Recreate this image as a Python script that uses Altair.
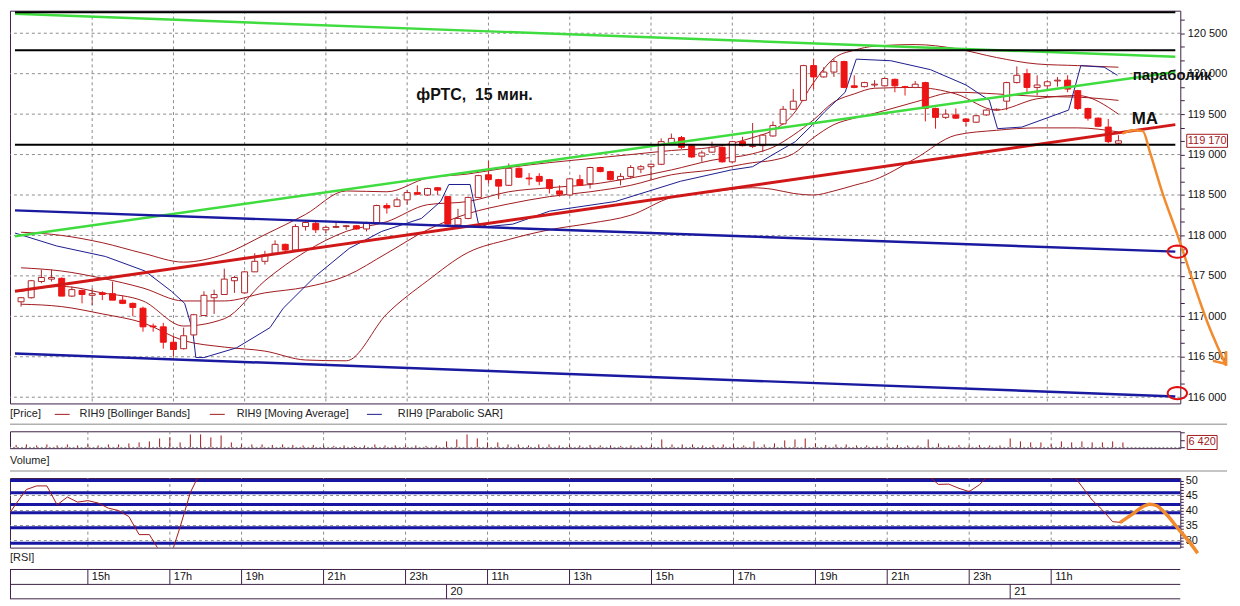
import math
import altair as alt
import pandas as pd

# ---------------- values ----------------
# 15-minute candles (index 0..108), RIH9
c_open = [117180,117230,117430,117460,117470,117250,117320,117260,117290,117280,
          117200,117160,117100,116880,116870,116680,116600,116770,117010,117230,
          117270,117440,117290,117550,117680,117780,117890,117820,118110,118150,
          118070,118100,118110,118120,118080,118160,118370,118360,118440,118530,
          118500,118590,118480,118130,118210,118470,118750,118690,118620,118830,
          118710,118730,118690,118550,118500,118690,118640,118840,118790,118690,
          118730,118820,118850,118880,119140,119210,119110,118980,119030,119090,
          118910,119160,119100,119110,119230,119380,119560,119670,120100,119960,
          120020,120150,119850,119840,119860,119850,119930,119840,119830,119890,
          119570,119460,119490,119440,119400,119490,119550,119660,119890,120000,
          119830,119850,119910,119920,119790,119570,119450,119340,119140]
c_close = [117230,117440,117480,117480,117250,117330,117270,117280,117270,117200,
           117160,117110,116870,116870,116680,116590,116760,117020,117260,117270,
           117460,117480,117550,117680,117760,117890,117820,118110,118160,118070,
           118100,118110,118120,118080,118150,118370,118340,118440,118530,118510,
           118580,118560,118140,118210,118470,118740,118690,118610,118830,118720,
           118700,118670,118580,118510,118700,118620,118840,118790,118690,118730,
           118840,118850,118880,119160,119200,119090,118970,119020,119090,118910,
           119160,119110,119110,119240,119360,119560,119660,120100,119960,120020,
           120150,119830,119830,119890,119870,119940,119850,119830,119870,119570,
           119460,119500,119450,119410,119480,119550,119560,119890,119980,119830,
           119860,119900,119920,119810,119570,119450,119350,119160,119170]
c_high = [117240,117450,117580,117580,117480,117370,117330,117350,117310,117430,
          117260,117170,117120,116910,116920,116760,116860,117030,117310,117330,
          117590,117500,117560,117780,117810,117940,117900,118140,118170,118170,
          118120,118170,118130,118130,118170,118380,118400,118470,118560,118620,
          118590,118600,118490,118330,118480,118750,118920,118700,118890,118840,
          118770,118770,118700,118620,118710,118750,118850,118850,118800,118770,
          118870,118870,118890,119200,119260,119230,119120,119050,119160,119100,
          119170,119220,119390,119250,119410,119600,119810,120110,120180,120080,
          120180,120160,119980,119900,119920,119950,119940,119850,119910,119900,
          119580,119560,119570,119450,119490,119560,119570,119900,120090,120060,
          119980,119920,119960,119980,119800,119580,119460,119440,119240]
c_low = [117120,117220,117410,117430,117250,117240,117160,117140,117200,117200,
         117150,117000,116810,116810,116600,116500,116590,116760,117010,117030,
         117270,117290,117290,117550,117640,117770,117810,117820,118060,118030,
         118030,118090,118070,118070,118050,118150,118270,118350,118380,118500,
         118490,118500,118130,118120,118200,118470,118640,118450,118610,118710,
         118620,118620,118520,118480,118490,118610,118580,118780,118680,118620,
         118700,118770,118690,118870,119120,119070,118960,118910,119020,118900,
         118890,119100,119080,119030,119220,119370,119550,119660,119810,119950,
         119960,119820,119820,119830,119830,119840,119770,119730,119820,119410,
         119320,119440,119440,119350,119390,119480,119540,119550,119880,119750,
         119730,119810,119840,119770,119550,119420,119340,119140,119130]
volume = [3200,3900,2600,3900,2600,3900,2600,3900,2600,3900,
          3900,5200,6500,7800,11700,13000,6500,16900,16900,13000,
          15600,6500,3900,3900,3900,3200,3900,3200,2600,3200,
          2600,2000,2600,2000,2600,3900,2600,2600,2600,2600,
          2000,2600,7800,10400,16900,11700,6500,6500,3900,3900,
          2600,3900,3900,2600,3200,2600,3200,2600,2600,2000,
          2600,2600,3200,10400,3900,3900,3900,2600,3200,3900,
          3900,2600,7800,3900,5200,9100,10400,11700,5200,3200,
          3900,3900,2600,2600,2000,2600,3200,2600,2600,10400,
          5200,2600,3200,2600,3200,2600,2600,11700,7800,6500,
          6500,3900,7800,6500,7800,6500,6500,7800,6420]

# indicator lines, read at these candle indexes
ind_k = [0,4,8,12,16,20,24,28,32,36,40,44,48,52,56,60,64,68,72,74,76,78,80,82,84,88,92,96,100,104,108]
bb_upper = [118040,118000,117910,117780,117670,117770,118010,118260,118550,118540,118710,118760,118840,
            118900,118950,119000,119050,119090,119210,119300,119500,119890,120190,120290,120340,120360,
            120310,120200,120120,120100,120080]
bb_mid = [117600,117560,117470,117350,117190,117190,117290,117360,117500,117780,118070,118270,118390,
          118480,118540,118620,118750,118810,118900,118930,119010,119210,119370,119450,119510,119650,
          119770,119750,119720,119710,119670]
bb_lower = [117150,117120,117030,116920,116700,116620,116570,116460,116450,117030,117440,117790,117950,
            118070,118150,118250,118470,118540,118590,118570,118520,118500,118550,118620,118690,118950,
            119240,119300,119330,119330,119280]
ma_line = [117310,117370,117290,117190,116880,116970,117440,117800,118050,118170,118380,118420,118540,
           118590,118630,118710,118810,118930,119010,119090,119240,119430,119650,119750,119820,119830,
           119750,119550,119690,119730,119500]

sar_k = [-0.6,3.5,8.3,12.2,14.8,16.1,16.9,17.2,18.0,21.2,24.5,25.8,29.0,32.3,35.5,39.4,41.3,42.1,44.2,
         45.0,45.9,48.4,52.0,58.5,64.9,69.9,72.0,74.0,76.2,77.9,79.1,81.1,82.2,85.6,89.5,93.0,95.3,96.1,
         98.5,103.1,104.3,106.6,107.9]
sar_val = [118030,117870,117740,117560,117310,117160,116820,116490,116490,116610,116860,117100,117500,
           117840,118050,118210,118420,118630,118630,118150,118110,118140,118300,118420,118670,118810,
           118850,119000,119160,119370,119530,119770,120180,120160,120050,119860,119670,119320,119340,
           119550,120100,120080,119980]

# hand-drawn straight lines: start/end (candle index, price)
trend_names = ["green_top", "green_low", "red_ma", "blue_top", "blue_low", "black_1", "black_2", "black_3"]
trend_k0 = [-0.6] * 8
trend_k1 = [113.6] * 8
trend_p0 = [120740, 117990, 117310, 118310, 116540, 120760, 120290, 119120]
trend_p1 = [120210, 120020, 119370, 117800, 116010, 120760, 120290, 119120]

rsi_seg = ["a"] * 20 + ["b"] * 7 + ["c"] * 6
rsi_k = [-0.6,0,1,2,3,4,5,6,7,8,9,10,11,12,13,14,15,16,17,18,
         89,90,91,92,93,94,95,
         103,104,105,106,107,108]
rsi_val = [39.3,42.3,47.0,48.2,48.2,41.9,44.5,42.8,43.3,42.5,40.8,40.0,38.0,32.0,32.0,26.5,24.0,34.5,46.0,53.0,
           51.6,48.7,48.8,47.4,46.3,48.6,52.0,
           52.5,48.0,43.5,40.2,36.3,36.0]
rsi_levels = [50, 45.9, 42, 39.3, 34.3, 29.1]
rsi_grid = [45, 40, 35, 30]

# orange hand-drawn forecasts
orange_price_k = [108.4,109.5,110.4,111.1,112.3,113.8,115.0,116.0,116.9,117.6,118.6]
orange_price_v = [119260,119300,119290,119030,118540,118010,117560,117190,116880,116670,116390]
arrow_k0 = [117.3, 118.6]
arrow_k1 = [118.6, 118.6]
arrow_p0 = [116450, 116570]
arrow_p1 = [116410, 116390]
orange_rsi_k = [107.7,109.0,110.0,110.6,111.3,112.3,113.5,114.5,115.3]
orange_rsi_v = [36.0,39.0,41.4,42.1,41.6,38.5,33.5,29.5,25.8]
circle_k = [113.8, 113.8]
circle_p = [117800, 116050]

note_text = ["фРТС,\u00a0 15 мин.", "параболик", "MA"]
note_k = [38.9, 109.4, 109.3]
note_p = [119670, 119920, 119380]

hour_k = [7,15,22,30,38,46,54,62,70,78,85,93,101]
hour_labels = ["15h","17h","19h","21h","23h","11h","13h","15h","17h","19h","21h","23h","11h"]
date_k = [42, 97]
date_labels = ["20", "21"]
price_levels = [116000,116500,117000,117500,118000,118500,119000,119500,120000,120500]
last_price = 119170
last_volume = 6420
legend_labels = ["RIH9 [Bollinger Bands]", "RIH9 [Moving Average]", "RIH9 [Parabolic SAR]"]

# ---------------- styles & layout ----------------
FONT = "Liberation Sans"
FRAME = "#3e2046"
GRID = "#8c8c8c"
IND = "#a01a1e"
UPLINE = "#b02428"
RED = "#ec1414"
NAVY = "#1c1c8e"
ORANGE = "#f28a2e"
SEP = "#b0b0b0"
W = 1177
TREND_STYLE = {"green_top": ("#3fdc3f", 2.5), "green_low": ("#3fdc3f", 2.5), "red_ma": ("#d01818", 3),
               "blue_top": ("#1a1aa0", 2.5), "blue_low": ("#1a1aa0", 2.5),
               "black_1": ("#000000", 2), "black_2": ("#000000", 2), "black_3": ("#000000", 2)}
NOTE_SIZE = [16, 15, 17]

xs = alt.Scale(domain=[-0.6, 113.6], nice=False, zero=False)
ps = alt.Scale(domain=[115923, 120779], nice=False, zero=False)
vs = alt.Scale(domain=[-1000, 21000], nice=False, zero=False)
rs = alt.Scale(domain=[27.67, 50.83], nice=False, zero=False)

minor_p = [round(116000 + i * 500 / 3) for i in range(0, 29)]
price_axis = alt.Axis(orient="right", values=minor_p,
                      labelExpr="datum.value % 500 === 0 ? replace(format(datum.value, ','), ',', ' ') : ''",
                      tickSize=4, tickColor=FRAME, domain=False, grid=False, title=None,
                      labelFontSize=11, labelFont=FONT, labelColor="#111", labelPadding=3, labelOverlap=False)
vol_axis = alt.Axis(orient="right", values=[0, 10000, 20000], labels=False, tickSize=4, tickColor=FRAME,
                    domain=False, grid=False, title=None)
rsi_axis = alt.Axis(orient="right", values=list(range(28, 51)),
                    labelExpr="datum.value % 5 === 0 ? datum.label : ''",
                    tickSize=3, tickColor=FRAME, domain=False, grid=False, title=None,
                    labelFontSize=11, labelFont=FONT, labelColor="#111", labelPadding=2, labelOverlap=False)


def xk(f="k"):
    return alt.X(f"{f}:Q", scale=xs, axis=None)


def yP(f):
    return alt.Y(f"{f}:Q", scale=ps, axis=price_axis)


def yV(f):
    return alt.Y(f"{f}:Q", scale=vs, axis=vol_axis)


def yR(f):
    return alt.Y(f"{f}:Q", scale=rs, axis=rsi_axis)


def box_path(ry):
    return f"M-1,{-ry} L1,{-ry} L1,{ry} L-1,{ry} Z"


def ellipse_path(ry, n=28):
    pts = [(math.cos(2 * math.pi * i / n), ry * math.sin(2 * math.pi * i / n)) for i in range(n)]
    return "M" + " L".join(f"{a:.3f},{b:.3f}" for a, b in pts) + " Z"


one = pd.DataFrame({"a": [0]})
n = len(c_open)

# ---------------- price panel ----------------
p_vgrid = alt.Chart(pd.DataFrame({"k": hour_k})).mark_rule(color=GRID, strokeDash=[3, 3], strokeWidth=1).encode(x=xk())
p_hgrid = alt.Chart(pd.DataFrame({"p": price_levels})).mark_rule(color=GRID, strokeDash=[3, 3], strokeWidth=1).encode(
    y=yP("p"))

ind = pd.DataFrame({"k": ind_k, "bbu": bb_upper, "bbm": bb_mid, "bbl": bb_lower, "ma": ma_line}).melt(
    "k", var_name="s", value_name="p")
p_ind = alt.Chart(ind).mark_line(color=IND, strokeWidth=1, interpolate="monotone").encode(
    x=xk(), y=yP("p"), detail="s:N")
p_sar = alt.Chart(pd.DataFrame({"k": sar_k, "p": sar_val})).mark_line(color=NAVY, strokeWidth=1).encode(
    x=xk(), y=yP("p"))

cd = pd.DataFrame({"k": list(range(n)), "o": c_open, "h": c_high, "l": c_low, "c": c_close})
cd["dir"] = ["up" if c >= o else "down" for o, c in zip(c_open, c_close)]
dir_fill = alt.Scale(domain=["up", "down"], range=["#ffffff", RED])
dir_stroke = alt.Scale(domain=["up", "down"], range=[UPLINE, RED])
p_wick = alt.Chart(cd).mark_rule(strokeWidth=1).encode(
    x=xk(), y=yP("l"), y2="h:Q",
    color=alt.Color("dir:N", scale=dir_stroke, legend=None))
p_body = alt.Chart(cd).mark_bar(size=6, strokeWidth=1).encode(
    x=xk(), y=yP("o"), y2="c:Q",
    fill=alt.Fill("dir:N", scale=dir_fill, legend=None),
    stroke=alt.Stroke("dir:N", scale=dir_stroke, legend=None))

tr = pd.DataFrame({"name": trend_names, "k0": trend_k0, "k1": trend_k1, "p0": trend_p0, "p1": trend_p1})
tr["col"] = [TREND_STYLE[t][0] for t in trend_names]
tr["w"] = [TREND_STYLE[t][1] for t in trend_names]
p_trend = alt.Chart(tr).mark_rule().encode(
    x=xk("k0"), x2="k1:Q", y=yP("p0"), y2="p1:Q",
    color=alt.Color("col:N", scale=None), strokeWidth=alt.StrokeWidth("w:Q", scale=None))

notes = pd.DataFrame({"t": note_text, "k": note_k, "p": note_p, "fs": NOTE_SIZE})
p_notes = alt.Chart(notes).mark_text(font=FONT, fontWeight="bold", align="left", baseline="alphabetic",
                                     color="#111").encode(
    x=xk(), y=yP("p"), text="t:N", size=alt.Size("fs:Q", scale=None))

p_orange = alt.Chart(pd.DataFrame({"k": orange_price_k, "p": orange_price_v})).mark_line(
    color=ORANGE, strokeWidth=2.5, interpolate="monotone").encode(x=xk(), y=yP("p"))
p_arrow = alt.Chart(pd.DataFrame({"k0": arrow_k0, "k1": arrow_k1, "p0": arrow_p0, "p1": arrow_p1})).mark_rule(
    color=ORANGE, strokeWidth=2.5).encode(x=xk("k0"), x2="k1:Q", y=yP("p0"), y2="p1:Q")
p_circ = alt.Chart(pd.DataFrame({"k": circle_k, "p": circle_p})).mark_point(
    shape=ellipse_path(0.63), size=380, filled=False, stroke="#e01010", strokeWidth=2, opacity=1).encode(
    x=xk(), y=yP("p"))

lp = pd.DataFrame({"p": [last_price], "t": [f"{last_price:,}".replace(",", " ")]})
p_lbox = alt.Chart(lp).mark_point(shape=box_path(0.32), size=41 * 41, filled=True, fill="white",
                                  stroke=IND, strokeWidth=1, opacity=1).encode(
    x=alt.value(W + 27), y=yP("p"))
p_ltxt = alt.Chart(lp).mark_text(font=FONT, fontSize=11, color=IND, align="center", baseline="middle").encode(
    x=alt.value(W + 27), y=yP("p"), text="t:N")

price = alt.layer(p_vgrid, p_hgrid, p_ind, p_sar, p_wick, p_body, p_trend, p_notes,
                  p_orange, p_arrow, p_circ, p_lbox, p_ltxt).properties(width=W, height=395)

# ---------------- legend row ----------------
LEG_TEXT_X = [70, 228, 390]
LEG_LINE_X = [45, 201, 359]
leg = pd.DataFrame({"t": legend_labels, "x": LEG_TEXT_X, "lx": LEG_LINE_X,
                    "lx2": [v + 15 for v in LEG_LINE_X], "col": [IND, IND, NAVY]})
leg_text = alt.Chart(leg).mark_text(font=FONT, fontSize=11, color="#222", align="left", baseline="middle").encode(
    x=alt.X("x:Q", scale=None), y=alt.value(11), text="t:N")
leg_line = alt.Chart(leg).mark_rule(strokeWidth=1).encode(
    x=alt.X("lx:Q", scale=None), x2="lx2:Q", y=alt.value(11), color=alt.Color("col:N", scale=None))
leg_price = alt.Chart(one).mark_text(font=FONT, fontSize=11, color="#222", align="left", baseline="middle",
                                     text="[Price]").encode(x=alt.value(0), y=alt.value(11))
leg_sep = alt.Chart(one).mark_rule(color=SEP, strokeWidth=1.5).encode(x=alt.value(0), x2=alt.value(1224), y=alt.value(21))
legend_row = alt.layer(leg_price, leg_line, leg_text, leg_sep).properties(
    width=W, height=28, view=alt.ViewBackground(stroke="transparent", strokeOpacity=0))

# ---------------- volume panel ----------------
vd = pd.DataFrame({"k": list(range(n)), "v": volume, "z": [0] * n})
v_grid = alt.Chart(pd.DataFrame({"k": hour_k})).mark_rule(color=GRID, strokeDash=[3, 3], strokeWidth=1).encode(x=xk())
v_base = alt.Chart(pd.DataFrame({"v": [0]})).mark_rule(color=GRID, strokeDash=[2, 2], strokeWidth=1).encode(y=yV("v"))
v_bars = alt.Chart(vd).mark_rule(color=IND, strokeWidth=1).encode(x=xk(), y=yV("z"), y2="v:Q")
lv = pd.DataFrame({"v": [last_volume], "t": [f"{last_volume:,}".replace(",", " ")]})
v_lbox = alt.Chart(lv).mark_point(shape=box_path(0.47), size=30 * 30, filled=True, fill="white",
                                  stroke=IND, strokeWidth=1, opacity=1).encode(x=alt.value(W + 22), y=yV("v"))
v_ltxt = alt.Chart(lv).mark_text(font=FONT, fontSize=11, color=IND, align="center", baseline="middle").encode(
    x=alt.value(W + 22), y=yV("v"), text="t:N")
vol = alt.layer(v_grid, v_base, v_bars, v_lbox, v_ltxt).properties(width=W, height=17)

vol_label = alt.layer(
    alt.Chart(one).mark_text(font=FONT, fontSize=11, color="#222", align="left", baseline="middle",
                             text="Volume]").encode(x=alt.value(0), y=alt.value(13)),
    alt.Chart(one).mark_rule(color=SEP, strokeWidth=1.5).encode(x=alt.value(0), x2=alt.value(1224), y=alt.value(23)),
).properties(width=W, height=30, view=alt.ViewBackground(stroke="transparent", strokeOpacity=0))

# ---------------- RSI panel ----------------
r_vgrid = alt.Chart(pd.DataFrame({"k": hour_k})).mark_rule(color=GRID, strokeDash=[3, 3], strokeWidth=1).encode(x=xk())
r_hgrid = alt.Chart(pd.DataFrame({"r": rsi_grid})).mark_rule(color=GRID, strokeDash=[3, 3], strokeWidth=1).encode(y=yR("r"))
r_levels = alt.Chart(pd.DataFrame({"r": rsi_levels})).mark_rule(color="#1616a2", strokeWidth=3).encode(y=yR("r"))
r_line = alt.Chart(pd.DataFrame({"k": rsi_k, "r": rsi_val, "s": rsi_seg})).mark_line(
    color=IND, strokeWidth=1, clip=True).encode(x=xk(), y=yR("r"), detail="s:N")
r_orange = alt.Chart(pd.DataFrame({"k": orange_rsi_k, "r": orange_rsi_v})).mark_line(
    color=ORANGE, strokeWidth=3.5, interpolate="monotone").encode(x=xk(), y=yR("r"))
rsi = alt.layer(r_vgrid, r_hgrid, r_levels, r_line, r_orange).properties(width=W, height=70)

# ---------------- RSI label + time axis ----------------
TB = [22, 37, 51.5]
b_layers = [
    alt.Chart(one).mark_text(font=FONT, fontSize=11, color="#222", align="left", baseline="middle",
                             text="[RSI]").encode(x=alt.value(0), y=alt.value(10)),
    alt.Chart(one).mark_rule(color=FRAME, strokeWidth=1).encode(x=alt.value(0.5), y=alt.value(TB[0]), y2=alt.value(TB[2])),
]
for yv in TB:
    b_layers.append(alt.Chart(one).mark_rule(color=FRAME, strokeWidth=1).encode(
        x=alt.value(0), x2=alt.value(W), y=alt.value(yv)))
hd = pd.DataFrame({"k": hour_k, "lab": hour_labels})
dd = pd.DataFrame({"k": date_k, "lab": date_labels})
b_layers += [
    alt.Chart(hd).mark_rule(color=FRAME, strokeWidth=1).encode(x=xk(), y=alt.value(TB[0]), y2=alt.value(TB[1])),
    alt.Chart(hd).mark_text(font=FONT, fontSize=11, color="#111", align="left", baseline="middle", dx=4).encode(
        x=xk(), y=alt.value((TB[0] + TB[1]) / 2), text="lab:N"),
    alt.Chart(dd).mark_rule(color=FRAME, strokeWidth=1).encode(x=xk(), y=alt.value(TB[1]), y2=alt.value(TB[2])),
    alt.Chart(dd).mark_text(font=FONT, fontSize=11, color="#111", align="left", baseline="middle", dx=4).encode(
        x=xk(), y=alt.value((TB[1] + TB[2]) / 2), text="lab:N"),
]
bottom = alt.layer(*b_layers).properties(width=W, height=52,
                                         view=alt.ViewBackground(stroke="transparent", strokeOpacity=0))

chart = alt.vconcat(price, legend_row, vol, vol_label, rsi, bottom, spacing=0, bounds="flush").properties(
    padding=0, background="white"
).configure_view(stroke=FRAME, strokeWidth=1).configure_axis(labelFont=FONT)

chart.save("out.html", embed_options={"renderer": "svg", "actions": False})
